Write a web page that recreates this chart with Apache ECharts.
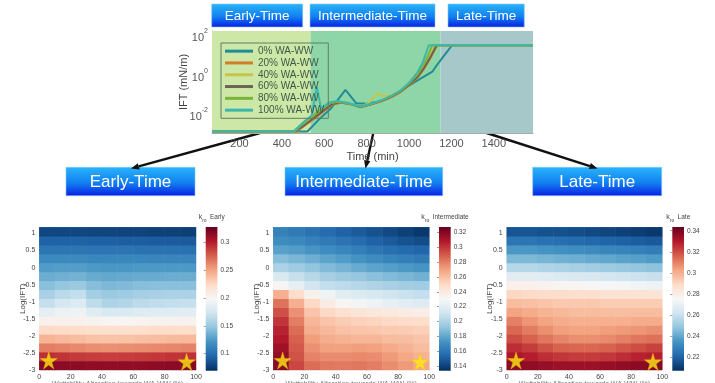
<!DOCTYPE html>
<html><head><meta charset="utf-8">
<script src="https://cdn.jsdelivr.net/npm/echarts@6/dist/echarts.min.js"></script>
<style>html,body{margin:0;padding:0;background:#fff}#c{width:715px;height:383px}</style>
</head><body><div id="c"></div>
<script>
// ---------- data: top IFT vs time chart ----------
const seriesNames = ['0% WA-WW','20% WA-WW','40% WA-WW','60% WA-WW','80% WA-WW','100% WA-WW'];
const t0   = [70, 520, 580, 630, 660, 700, 750, 800, 850, 900, 960, 1000, 1040, 1070, 1110, 1130, 1160, 1203, 1585];
const v0   = [0.0014, 0.0014, 0.0065, 0.02, 0.05, 0.18, 0.038, 0.036, 0.045, 0.065, 0.15, 0.3, 0.55, 0.85, 1.5, 3.1, 8.3, 33, 33];
const t20  = [70, 470, 520, 560, 600, 640, 680, 720, 770, 820, 870, 920, 960, 1000, 1040, 1070, 1100, 1132, 1585];
const v20  = [0.0014, 0.0014, 0.0035, 0.007, 0.016, 0.033, 0.04, 0.035, 0.025, 0.033, 0.048, 0.08, 0.14, 0.3, 0.75, 2, 7, 33, 33];
const t40  = [70, 465, 510, 550, 590, 630, 670, 710, 770, 810, 850, 880, 920, 960, 1000, 1040, 1070, 1095, 1117, 1585];
const v40  = [0.0014, 0.0014, 0.0035, 0.008, 0.017, 0.035, 0.042, 0.038, 0.025, 0.04, 0.12, 0.085, 0.1, 0.16, 0.38, 1.0, 3.0, 10, 33, 33];
const t60  = [70, 465, 515, 555, 595, 635, 675, 720, 770, 820, 870, 920, 960, 1000, 1040, 1070, 1100, 1130, 1585];
const v60  = [0.0014, 0.0014, 0.0035, 0.0075, 0.016, 0.034, 0.042, 0.036, 0.024, 0.034, 0.05, 0.085, 0.15, 0.33, 0.85, 2.3, 8, 33, 33];
const t80  = [70, 460, 505, 545, 585, 625, 665, 710, 770, 820, 870, 920, 960, 1000, 1040, 1070, 1090, 1109, 1585];
const v80  = [0.0014, 0.0014, 0.004, 0.009, 0.019, 0.038, 0.045, 0.038, 0.025, 0.035, 0.052, 0.09, 0.16, 0.38, 1.1, 3.5, 10, 33, 33];
const t100 = [70, 455, 500, 540, 565, 585, 620, 660, 710, 770, 820, 870, 920, 960, 1000, 1040, 1065, 1093, 1585];
const v100 = [0.0014, 0.0014, 0.004, 0.009, 0.25, 0.02, 0.04, 0.05, 0.04, 0.026, 0.036, 0.055, 0.095, 0.17, 0.42, 1.4, 4.5, 33, 33];
const phaseLabels = ['Early-Time', 'Intermediate-Time', 'Late-Time'];
const phaseStart = [70, 535, 1148];
const phaseEnd   = [535, 1148, 1585];

// ---------- data: k_ro maps (rows bottom -> top, columns 0 -> 100 %) ----------
const xCols = ['5','15','25','35','45','55','65','75','85','95'];
const yRows = ['-2.87','-2.61','-2.35','-2.09','-1.82','-1.56','-1.30','-1.04','-0.78','-0.52','-0.26','0.01','0.27','0.53','0.79','1.05'];
const early = [
 [0.318,0.316,0.315,0.314,0.314,0.314,0.314,0.315,0.316,0.318],
 [0.294,0.292,0.29,0.289,0.288,0.289,0.29,0.291,0.292,0.293],
 [0.265,0.263,0.261,0.259,0.258,0.259,0.26,0.261,0.262,0.263],
 [0.243,0.241,0.239,0.237,0.236,0.237,0.238,0.239,0.24,0.241],
 [0.224,0.223,0.222,0.221,0.22,0.22,0.221,0.222,0.222,0.222],
 [0.205,0.205,0.205,0.203,0.201,0.201,0.202,0.203,0.203,0.204],
 [0.186,0.19,0.192,0.182,0.178,0.179,0.181,0.182,0.183,0.184],
 [0.168,0.175,0.18,0.165,0.158,0.16,0.164,0.166,0.167,0.168],
 [0.156,0.163,0.167,0.154,0.15,0.152,0.155,0.156,0.157,0.157],
 [0.144,0.148,0.15,0.143,0.14,0.141,0.143,0.144,0.144,0.144],
 [0.134,0.136,0.137,0.133,0.131,0.132,0.133,0.133,0.134,0.134],
 [0.125,0.126,0.126,0.124,0.123,0.123,0.124,0.124,0.124,0.124],
 [0.115,0.115,0.115,0.114,0.114,0.114,0.114,0.113,0.113,0.113],
 [0.104,0.104,0.104,0.103,0.103,0.103,0.102,0.102,0.102,0.101],
 [0.093,0.093,0.093,0.092,0.092,0.091,0.091,0.09,0.09,0.089],
 [0.08,0.08,0.08,0.079,0.079,0.078,0.078,0.077,0.077,0.076]
];
const intermediate = [
 [0.318,0.295,0.285,0.282,0.281,0.282,0.28,0.276,0.272,0.268],
 [0.316,0.292,0.279,0.276,0.276,0.277,0.276,0.272,0.268,0.264],
 [0.313,0.29,0.275,0.27,0.27,0.271,0.27,0.267,0.264,0.261],
 [0.308,0.288,0.271,0.266,0.264,0.263,0.263,0.261,0.26,0.258],
 [0.305,0.285,0.266,0.262,0.259,0.258,0.257,0.256,0.255,0.254],
 [0.3,0.28,0.263,0.258,0.255,0.253,0.252,0.25,0.249,0.248],
 [0.293,0.275,0.258,0.25,0.246,0.243,0.241,0.24,0.238,0.237],
 [0.283,0.265,0.25,0.238,0.232,0.228,0.225,0.222,0.22,0.218],
 [0.265,0.248,0.235,0.226,0.22,0.217,0.214,0.211,0.209,0.207],
 [0.232,0.222,0.212,0.207,0.205,0.203,0.201,0.199,0.197,0.196],
 [0.215,0.208,0.203,0.198,0.195,0.193,0.19,0.188,0.186,0.184],
 [0.2,0.196,0.192,0.188,0.185,0.182,0.179,0.177,0.175,0.173],
 [0.189,0.186,0.183,0.179,0.176,0.172,0.169,0.166,0.164,0.162],
 [0.178,0.176,0.173,0.17,0.167,0.164,0.16,0.157,0.155,0.153],
 [0.17,0.168,0.165,0.162,0.159,0.156,0.152,0.149,0.146,0.144],
 [0.165,0.162,0.159,0.156,0.152,0.149,0.146,0.143,0.14,0.137]
];
const late = [
 [0.337,0.336,0.335,0.334,0.334,0.334,0.335,0.336,0.337,0.338],
 [0.331,0.329,0.326,0.324,0.323,0.323,0.324,0.326,0.328,0.329],
 [0.326,0.323,0.319,0.316,0.315,0.315,0.316,0.318,0.32,0.322],
 [0.32,0.316,0.312,0.309,0.307,0.307,0.308,0.31,0.312,0.313],
 [0.315,0.311,0.307,0.304,0.303,0.303,0.304,0.305,0.306,0.307],
 [0.31,0.306,0.303,0.301,0.3,0.3,0.3,0.3,0.301,0.301],
 [0.303,0.301,0.299,0.298,0.297,0.297,0.297,0.297,0.297,0.297],
 [0.297,0.296,0.295,0.294,0.294,0.294,0.293,0.293,0.293,0.293],
 [0.29,0.289,0.288,0.288,0.287,0.287,0.286,0.286,0.286,0.285],
 [0.279,0.279,0.278,0.277,0.277,0.276,0.275,0.274,0.273,0.272],
 [0.268,0.268,0.267,0.266,0.265,0.264,0.263,0.262,0.261,0.26],
 [0.256,0.256,0.255,0.254,0.253,0.252,0.251,0.25,0.249,0.248],
 [0.245,0.245,0.244,0.243,0.242,0.241,0.24,0.239,0.238,0.237],
 [0.236,0.236,0.235,0.234,0.233,0.232,0.231,0.23,0.229,0.228],
 [0.226,0.226,0.225,0.224,0.223,0.222,0.221,0.22,0.219,0.218],
 [0.217,0.217,0.216,0.216,0.215,0.214,0.213,0.212,0.211,0.21]
];
const mapNames = ['Early', 'Intermediate', 'Late'];
const mapMin = [0.069, 0.134, 0.2077];
const mapMax = [0.328, 0.327, 0.3435];
const starPts = [[6, -2.72], [94, -2.76]];

// ---------- styling / layout ----------
const FONT = 'Liberation Sans';
const lineColors = ['#1f8c96', '#d07e2a', '#c8c44a', '#6e6254', '#78b43a', '#3cb8aa'];
const phaseColors = ['#cde7a6', '#8ed6a8', '#a6c8c9'];
const rdbu = ['#053061','#2166ac','#4393c3','#92c5de','#d1e5f0','#f7f7f7','#fddbc7','#f4a582','#d6604d','#b2182b','#67001f'];
const panels = [
  {left: 39.3, width: 156.7, cb: 205.7},
  {left: 273.3, width: 156, cb: 439},
  {left: 506.7, width: 155.6, cb: 672.3}
];
const PT = 227.3, PH = 142.7;

const chart = echarts.init(document.getElementById('c'), null, {renderer: 'canvas'});

function mkGrid(l, t, w, h) { return {left: l, top: t, width: w, height: h, outerBoundsMode: 'none', containLabel: false}; }
const grids = [mkGrid(212, 31, 321, 102)];
const xAxes = [{
  gridIndex: 0, type: 'value', min: 70, max: 1585, splitNumber: 7,
  name: 'Time (min)', nameLocation: 'middle', nameGap: 18,
  nameTextStyle: {fontFamily: FONT, fontSize: 11, color: '#444'},
  axisLine: {show: true, lineStyle: {color: '#aaa'}},
  axisTick: {inside: true, length: 3, lineStyle: {color: '#888'}},
  axisLabel: {fontFamily: FONT, fontSize: 11, color: '#555', margin: 5, showMinLabel: false, showMaxLabel: false,
    formatter: v => String(v)},
  splitLine: {show: false}
}];
const yAxes = [{
  gridIndex: 0, type: 'log', logBase: 10, min: 0.00118, max: 174, splitNumber: 3,
  name: 'IFT (mN/m)', nameLocation: 'middle', nameGap: 23, nameMoveOverlap: false,
  nameTextStyle: {fontFamily: FONT, fontSize: 11, color: '#444'},
  axisLine: {show: true, lineStyle: {color: '#aaa'}},
  axisTick: {inside: true, length: 3, lineStyle: {color: '#888'}},
  axisLabel: {
    fontFamily: FONT, color: '#555', margin: 4, showMinLabel: false, showMaxLabel: false,
    formatter: v => { const e = Math.round(Math.log10(v)); return (e % 2 === 0) ? '{b|10}{s|' + e + '}' : ''; },
    rich: {b: {fontSize: 11, fontFamily: FONT, color: '#555', lineHeight: 16, verticalAlign: 'bottom'},
           s: {fontSize: 7, fontFamily: FONT, color: '#555', lineHeight: 9, verticalAlign: 'top'}}
  },
  splitLine: {show: false}
}];

const tArr = [t0, t20, t40, t60, t80, t100];
const vArr = [v0, v20, v40, v60, v80, v100];
const series = [{
  type: 'line', xAxisIndex: 0, yAxisIndex: 0, data: [], z: 1, silent: true,
  markArea: {silent: true, data: phaseStart.map((s, i) => [
    {xAxis: s, itemStyle: {color: phaseColors[i], opacity: 1}}, {xAxis: phaseEnd[i]}
  ])}
}];
seriesNames.forEach((n, i) => {
  series.push({
    type: 'line', name: n, xAxisIndex: 0, yAxisIndex: 0, symbol: 'none', z: 3,
    lineStyle: {width: 2, color: lineColors[i]}, itemStyle: {color: lineColors[i]},
    data: tArr[i].map((t, k) => [t, vArr[i][k]]), animation: false
  });
});

const maps = [early, intermediate, late];
const visualMaps = [];
const graphics = [];
panels.forEach((p, k) => {
  const gCat = grids.length;
  grids.push(mkGrid(p.left, PT, p.width, PH));
  grids.push(mkGrid(p.left, PT, p.width, PH));
  const gVal = gCat + 1;
  xAxes.push({gridIndex: gCat, type: 'category', data: xCols, show: false});
  yAxes.push({gridIndex: gCat, type: 'category', data: yRows, show: false});
  const xc = xAxes.length - 1, yc = yAxes.length - 1;
  xAxes.push({gridIndex: gVal, type: 'value', min: 0, max: 100, interval: 20,
    name: 'Wettability Alteration towards WA-WW (%)', nameLocation: 'middle', nameGap: 11, nameMoveOverlap: false,
    nameTextStyle: {fontFamily: FONT, fontSize: 7, color: '#777'},
    axisLine: {show: false}, axisTick: {show: false}, splitLine: {show: false},
    axisLabel: {fontFamily: FONT, fontSize: 7, color: '#444', margin: 4}});
  yAxes.push({gridIndex: gVal, type: 'value', min: -3, max: 1.18, interval: 0.5,
    name: 'Log(IFT)', nameLocation: 'middle', nameGap: 13, nameMoveOverlap: false,
    nameTextStyle: {fontFamily: FONT, fontSize: 8, color: '#444'},
    axisLine: {show: false}, axisTick: {show: false}, splitLine: {show: false},
    axisLabel: {fontFamily: FONT, fontSize: 7, color: '#444', margin: 4, showMaxLabel: false}});
  const xv = xAxes.length - 1, yv = yAxes.length - 1;
  const data = [];
  maps[k].forEach((row, r) => row.forEach((v, c) => data.push([c, r, v])));
  const hmIndex = series.length;
  series.push({type: 'heatmap', xAxisIndex: xc, yAxisIndex: yc, data: data, progressive: 0,
    itemStyle: {borderWidth: 0}, emphasis: {disabled: true}, silent: true, animation: false});
  series.push({type: 'scatter', xAxisIndex: xv, yAxisIndex: yv, data: starPts, z: 10, silent: true,
    symbol: 'path://M50,0 L61,35 L98,35 L68,57 L79,91 L50,70 L21,91 L32,57 L2,35 L39,35 Z',
    symbolSize: 17, itemStyle: {color: '#ffe814', borderColor: '#e6c800', borderWidth: 0.5}, animation: false});
  visualMaps.push({type: 'continuous', show: false, seriesIndex: hmIndex, min: mapMin[k], max: mapMax[k],
    inRange: {color: rdbu}});
  // colorbar axis
  const gCb = grids.length;
  grids.push(mkGrid(p.cb, 227, 11.7, 143.7));
  xAxes.push({gridIndex: gCb, type: 'value', show: false, min: 0, max: 1});
  yAxes.push({gridIndex: gCb, type: 'value', position: 'right', min: mapMin[k], max: mapMax[k],
    splitNumber: [5, 10, 7][k],
    axisLine: {show: false}, splitLine: {show: false},
    axisTick: {show: true, inside: true, length: 2, lineStyle: {color: '#555', width: 0.6}},
    axisLabel: {fontFamily: FONT, fontSize: 6.5, color: '#444', margin: 3, showMinLabel: false, showMaxLabel: false}});
  graphics.push({type: 'rect', shape: {x: p.cb, y: 227, width: 11.7, height: 143.7}, z: -1,
    style: {fill: new echarts.graphic.LinearGradient(0, 1, 0, 0,
      rdbu.map((c, i) => ({offset: i / (rdbu.length - 1), color: c})))}});
  graphics.push({type: 'text', x: p.cb + 6, y: 223, z: 10, style: {
    text: '{k|k}{s|ro} {n|' + mapNames[k] + '}', align: 'center', verticalAlign: 'bottom',
    rich: {k: {fontFamily: FONT, fontSize: 7, fill: '#444'}, s: {fontFamily: FONT, fontSize: 5, fill: '#444', verticalAlign: 'bottom', padding: [3, 0, 0, 0]},
           n: {fontFamily: FONT, fontSize: 6.5, fill: '#444'}}}});
});

// phase boxes and arrows
function box(x, y, w, h, label, fs) {
  return {type: 'group', z: 20, children: [
    {type: 'rect', shape: {x: x, y: y, width: w, height: h}, style: {
      fill: new echarts.graphic.LinearGradient(0, 0, 0, 1, [
        {offset: 0, color: '#2ab4fa'}, {offset: 0.55, color: '#1180f0'}, {offset: 1, color: '#0a1ee6'}]),
      stroke: '#7fc8f0', lineWidth: 0.6}},
    {type: 'text', x: x + w / 2, y: y + h / 2 + 0.5, style: {text: label, fill: '#fff', fontFamily: FONT,
      fontSize: fs, align: 'center', verticalAlign: 'middle'}}
  ]};
}
graphics.push(box(211.7, 4, 91, 23, phaseLabels[0], 13.5));
graphics.push(box(310, 4, 125, 23, phaseLabels[1], 13.5));
graphics.push(box(448, 4, 76.3, 23, phaseLabels[2], 13.5));
graphics.push(box(66, 167.3, 129, 28.4, phaseLabels[0], 17));
graphics.push(box(285, 167.3, 157.7, 28.4, phaseLabels[1], 17));
graphics.push(box(532.7, 167.3, 129, 28.4, phaseLabels[2], 17));
function arrow(x1, y1, x2, y2) {
  const a = Math.atan2(y2 - y1, x2 - x1), L = 8, W = 3.2;
  const bx = x2 - L * Math.cos(a), by = y2 - L * Math.sin(a);
  return {type: 'group', z: 25, children: [
    {type: 'line', shape: {x1: x1, y1: y1, x2: bx, y2: by}, style: {stroke: '#111', lineWidth: 2.4}},
    {type: 'polygon', shape: {points: [[x2, y2], [bx + W * Math.sin(a), by - W * Math.cos(a)], [bx - W * Math.sin(a), by + W * Math.cos(a)]]},
     style: {fill: '#111'}}
  ]};
}
graphics.push(arrow(260, 133, 131, 168.5));
graphics.push(arrow(373.3, 133, 365.5, 168.5));
graphics.push(arrow(486.7, 133, 597.5, 168.5));

chart.setOption({
  animation: false,
  backgroundColor: '#fff',
  textStyle: {fontFamily: FONT},
  grid: grids, xAxis: xAxes, yAxis: yAxes, series: series,
  visualMap: visualMaps,
  legend: {
    data: seriesNames, orient: 'vertical', left: 221, top: 43, padding: [3, 4, 3, 4],
    itemWidth: 28, itemHeight: 3, itemGap: 1.5, icon: 'rect', selectedMode: false,
    borderColor: '#5f7d66', borderWidth: 1,
    textStyle: {fontFamily: FONT, fontSize: 10, color: '#3d5a48', lineHeight: 10.3}
  },
  graphic: graphics
});
</script></body></html>
